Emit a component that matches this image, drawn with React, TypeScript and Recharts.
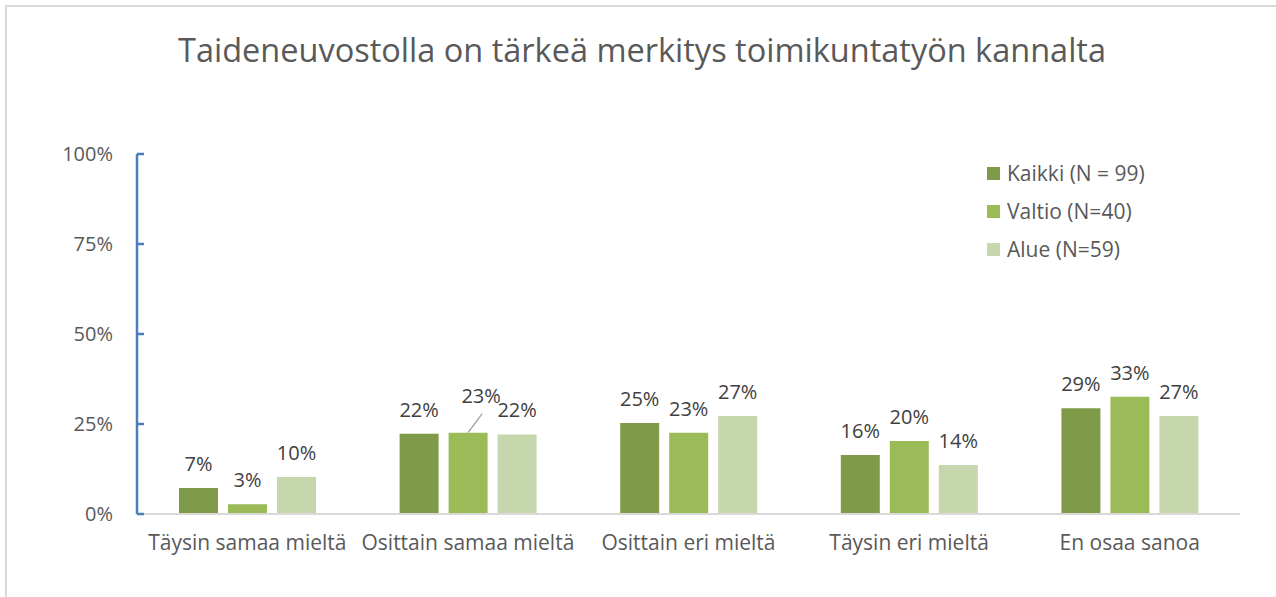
import React from 'react';
import { BarChart, Bar, XAxis, YAxis, LabelList } from 'recharts';

const categories = ['Täysin samaa mieltä', 'Osittain samaa mieltä', 'Osittain eri mieltä', 'Täysin eri mieltä', 'En osaa sanoa'];
const kaikki = [7.2, 22.3, 25.3, 16.4, 29.4];
const valtio = [2.7, 22.6, 22.6, 20.3, 32.6];
const alue = [10.3, 22.1, 27.2, 13.6, 27.2];
const yTicks = [0, 25, 50, 75, 100];
const seriesNames = ['Kaikki (N = 99)', 'Valtio (N=40)', 'Alue (N=59)'];
const seriesColors = ['#7f9a48', '#9bbb59', '#c6d6ad'];
const title = 'Taideneuvostolla on tärkeä merkitys toimikuntatyön kannalta';

const data = categories.map((c, i) => ({ name: c, kaikki: kaikki[i], valtio: valtio[i], alue: alue[i] }));

const FONT = "'Open Sans', 'Liberation Sans', Arial, sans-serif";

const makeLabel = (shiftIndex: number | null) => (props: any) => {
  const { x, y, width, value, index } = props;
  const cx = Number(x) + Number(width) / 2;
  const text = `${Math.round(Number(value))}%`;
  if (index === shiftIndex) {
    const lx = cx + 13;
    const ly = Number(y) - 30;
    return (
      <g>
        <line x1={cx} y1={Number(y)} x2={cx + 14} y2={Number(y) - 19} stroke="#a6a6a6" strokeWidth={1.5} />
        <text x={lx} y={ly} textAnchor="middle" fill="#404040" fontSize={20} fontFamily={FONT}>{text}</text>
      </g>
    );
  }
  return (
    <text x={cx} y={Number(y) - 17} textAnchor="middle" fill="#404040" fontSize={20} fontFamily={FONT}>{text}</text>
  );
};

export default function App() {
  return (
    <div style={{ position: 'absolute', left: 0, top: 0, width: 1276, height: 597, background: '#fff', overflow: 'hidden' }}>
      <div style={{ position: 'absolute', left: 5, top: 5, width: 1300, height: 620, borderTop: '2px solid #d9d9d9', borderLeft: '2px solid #d9d9d9' }} />
      <div style={{ position: 'absolute', left: 0, top: 27, width: 1284, textAlign: 'center', fontFamily: FONT, fontSize: 32.5, color: '#595959', whiteSpace: 'nowrap' }}>
        {title}
      </div>
      <BarChart
        width={1276}
        height={597}
        data={data}
        margin={{ top: 154, right: 36, bottom: 43, left: 57 }}
        barGap={10}
        barSize={39}
        style={{ position: 'absolute', left: 0, top: 0 }}
      >
        <XAxis
          dataKey="name"
          axisLine={{ stroke: '#d9d9d9', strokeWidth: 2 }}
          tickLine={false}
          tickMargin={15}
          height={40}
          interval={0}
          tick={{ fill: '#595959', fontSize: 21, fontFamily: FONT }}
        />
        <YAxis
          domain={[0, 100]}
          ticks={yTicks}
          width={80}
          axisLine={{ stroke: '#4a7ebb', strokeWidth: 2.5 }}
          tickLine={{ stroke: '#4a7ebb', strokeWidth: 2.5 }}
          tickSize={-7}
          tickMargin={31}
          tickFormatter={(v: number) => `${v}%`}
          tick={{ fill: '#595959', fontSize: 20, fontFamily: FONT }}
        />
        <Bar dataKey="kaikki" name={seriesNames[0]} fill={seriesColors[0]} isAnimationActive={false}>
          <LabelList dataKey="kaikki" content={makeLabel(null)} />
        </Bar>
        <Bar dataKey="valtio" name={seriesNames[1]} fill={seriesColors[1]} isAnimationActive={false}>
          <LabelList dataKey="valtio" content={makeLabel(1)} />
        </Bar>
        <Bar dataKey="alue" name={seriesNames[2]} fill={seriesColors[2]} isAnimationActive={false}>
          <LabelList dataKey="alue" content={makeLabel(null)} />
        </Bar>
      </BarChart>
      <div style={{ position: 'absolute', left: 987, top: 154, fontFamily: FONT, fontSize: 21, color: '#595959' }}>
        {seriesNames.map((n, i) => (
          <div key={n} style={{ display: 'flex', alignItems: 'center', height: 38 }}>
            <div style={{ width: 13, height: 13, background: seriesColors[i], marginRight: 7 }} />
            <span>{n}</span>
          </div>
        ))}
      </div>
    </div>
  );
}
